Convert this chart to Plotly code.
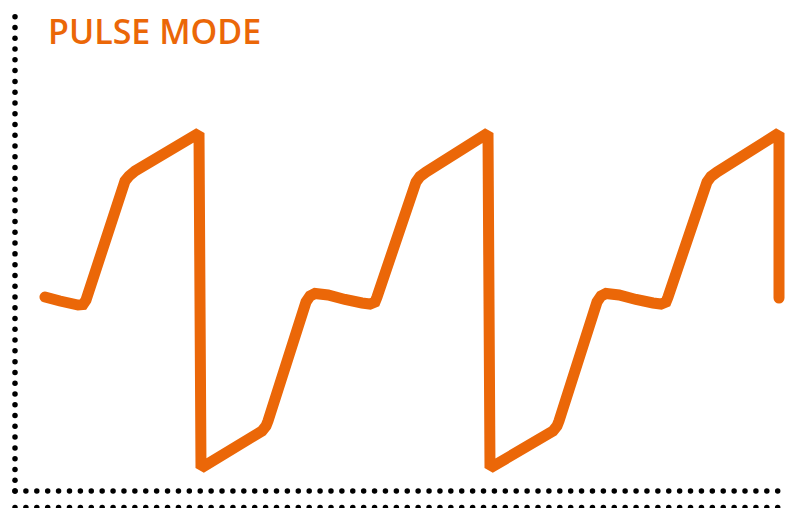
import numpy as np
import plotly.graph_objects as go

# Signal: time (units of 0.1 ms from start) and amplitude (mV)
time_t = [0, 15, 33, 38, 41, 80, 84, 90, 154, 156, 217, 221, 223,
          261, 265, 270, 283, 300, 317, 325, 330, 332, 371, 375, 381, 443, 445,
          508, 512, 514, 552, 556, 561, 574, 591, 608, 616, 621, 623,
          662, 666, 672, 734, 734]
amplitude = [3, -1, -5, -4.5, 0, 119, 124, 129, 167, -168, -131, -126, -121,
             -2, 4, 6.5, 5, 0.5, -3, -4, -2, 3, 118, 123.5, 128, 167, -168,
             -131, -126, -121, -2, 4, 6.5, 5, 0.5, -3, -4, -2, 3,
             118, 123.5, 128, 167, 2]

title_text = "PULSE MODE"
orange = "#EB6708"

fig = go.Figure()
fig.add_trace(go.Scatter(x=time_t, y=amplitude, mode="lines",
                         line=dict(color=orange, width=11, simplify=False),
                         hoverinfo="skip", showlegend=False))

# dotted axes decoration on an overlay (pixel-like) axis pair
left_y = np.linspace(16.7, 491, 45)
bot_x = np.linspace(15, 777.7, 71)
fig.add_trace(go.Scatter(x=[15] * len(left_y), y=left_y, mode="markers",
                         marker=dict(color="black", size=5.5), xaxis="x2", yaxis="y2",
                         hoverinfo="skip", showlegend=False, cliponaxis=False))
for yy in (491, 507.5):
    fig.add_trace(go.Scatter(x=bot_x, y=[yy] * len(bot_x), mode="markers",
                             marker=dict(color="black", size=5.5), xaxis="x2", yaxis="y2",
                             hoverinfo="skip", showlegend=False, cliponaxis=False))

fig.add_annotation(text=title_text, x=46, y=56, xref="x2", yref="y2",
                   xanchor="left", yanchor="bottom", showarrow=False,
                   font=dict(family="Open Sans", size=34, color=orange, weight=600))

fig.update_layout(
    width=800, height=508, margin=dict(l=0, r=0, t=0, b=0),
    paper_bgcolor="white", plot_bgcolor="white",
    hovermode=False,
    xaxis=dict(range=[-45, 755], visible=False, fixedrange=True),
    yaxis=dict(range=[-208, 300], visible=False, fixedrange=True),
    xaxis2=dict(range=[0, 800], visible=False, overlaying="x", fixedrange=True),
    yaxis2=dict(range=[508, 0], visible=False, overlaying="y", fixedrange=True),
)
fig.write_html(
    "out.html", config={"displayModeBar": False},
    post_script=(
        "document.body.style.margin='0';document.body.style.overflow='hidden';"
        "document.querySelectorAll('.scatterlayer .js-line').forEach(function(p){"
        "p.style.strokeLinecap='round';});"
    ),
)
